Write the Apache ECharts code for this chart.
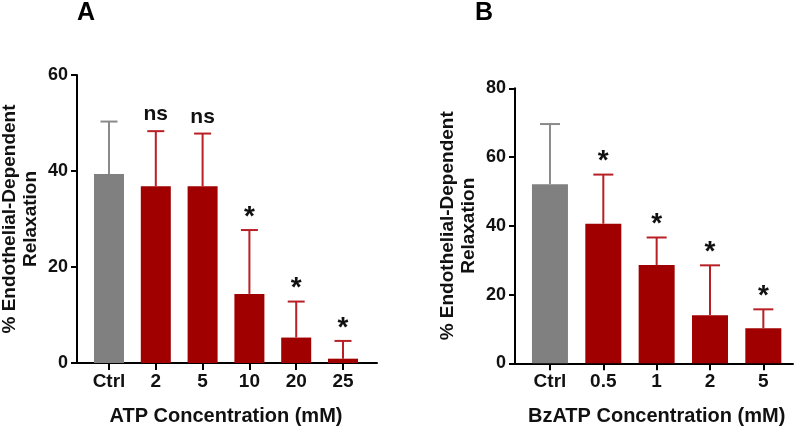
<!DOCTYPE html>
<html>
<head>
<meta charset="utf-8">
<script src="https://cdn.jsdelivr.net/npm/echarts@6/dist/echarts.min.js"></script>
<style>html,body{margin:0;padding:0;background:#fff}#c{width:800px;height:426px}</style>
</head>
<body>
<div id="c"></div>
<script>
// ---- Data ----
const catsA = ['Ctrl', '2', '5', '10', '20', '25'];
const meanA = [39.4, 36.8, 36.8, 14.4, 5.3, 0.9];
const errA  = [10.9, 11.5, 11.0, 13.3, 7.5, 3.7];
const sigA  = ['', 'ns', 'ns', '*', '*', '*'];
const yTicksA = { min: 0, max: 60, interval: 20 };

const catsB = ['Ctrl', '0.5', '1', '2', '5'];
const meanB = [52.1, 40.6, 28.6, 14.0, 10.2];
const errB  = [17.5, 14.3, 8.0, 14.5, 5.5];
const sigB  = ['', '*', '*', '*', '*'];
const yTicksB = { min: 0, max: 80, interval: 20 };

const yTitle = '% Endothelial-Dependent\nRelaxation';
const xTitleA = 'ATP Concentration (mM)';
const xTitleB = 'BzATP Concentration (mM)';

// ---- Styles ----
const FONT = '"Liberation Sans", Arial, sans-serif';
const RED = '#a00000', GREY = '#808080';
const RED_ERR = '#b82025', GREY_ERR = '#8a8a8a';

const chart = echarts.init(document.getElementById('c'), null, { renderer: 'canvas' });

function barData(vals) {
  return vals.map((v, i) => ({ value: v, itemStyle: { color: i === 0 ? GREY : RED } }));
}
function errData(means, errs) {
  return means.map((m, i) => [i, m, m + errs[i]]);
}
function errRender(capW) {
  return function (params, api) {
    const i = api.value(0);
    const base = api.coord([i, api.value(1)]);
    const top = api.coord([i, api.value(2)]);
    const color = i === 0 ? GREY_ERR : RED_ERR;
    return { type: 'group', children: [
      { type: 'line', shape: { x1: base[0], y1: base[1], x2: top[0], y2: top[1] }, style: { stroke: color, lineWidth: 2 } },
      { type: 'line', shape: { x1: top[0] - capW / 2, y1: top[1], x2: top[0] + capW / 2, y2: top[1] }, style: { stroke: color, lineWidth: 2 } }
    ] };
  };
}
function sigRender(sigs) {
  return function (params, api) {
    const i = api.value(0);
    const top = api.coord([i, api.value(2)]);
    const t = sigs[params.dataIndex];
    if (!t) return null;
    const isNs = t === 'ns';
    return {
      type: 'text',
      style: { text: t, x: top[0], y: top[1] + (isNs ? -6 : 1), align: 'center', verticalAlign: 'bottom',
               font: 'bold ' + (isNs ? 21 : 28) + 'px ' + FONT, fill: '#111' }
    };
  };
}

const axisLabelStyle = { color: '#111', fontFamily: FONT, fontWeight: 'bold', fontSize: 18 };
const catLabelStyle = { color: '#111', fontFamily: FONT, fontWeight: 'bold', fontSize: 19 };
const nameStyle = { color: '#111', fontFamily: FONT, fontWeight: 'bold', fontSize: 19, lineHeight: 21 };
const xNameStyle = { color: '#111', fontFamily: FONT, fontWeight: 'bold', fontSize: 20 };

const option = {
  animation: false,
  backgroundColor: '#fff',
  title: [
    { text: 'A', left: 77, top: 1, padding: 0, textStyle: { fontFamily: FONT, fontWeight: 'bold', fontSize: 25, color: '#000' } },
    { text: 'B', left: 475, top: 1, padding: 0, textStyle: { fontFamily: FONT, fontWeight: 'bold', fontSize: 25, color: '#000' } }
  ],
  grid: [
    { left: 77, right: 423, top: 75, bottom: 63, outerBoundsMode: 'none', containLabel: false },
    { left: 85.6, right: 433.6, top: 75, bottom: 63, outerBoundsMode: 'none', containLabel: false },
    { left: 515, right: 7, top: 88.3, bottom: 62.7, outerBoundsMode: 'none', containLabel: false },
    { left: 523.3, right: 10, top: 88.3, bottom: 62.7, outerBoundsMode: 'none', containLabel: false }
  ],
  xAxis: [
    { gridIndex: 0, type: 'value', min: 0, max: 1, axisLine: { show: true, lineStyle: { color: '#000', width: 2 } },
      axisTick: { show: false }, axisLabel: { show: false }, splitLine: { show: false } },
    { gridIndex: 1, type: 'category', data: catsA, axisLine: { show: false },
      axisTick: { show: true, alignWithLabel: true, length: 7, lineStyle: { color: '#000', width: 2 } },
      axisLabel: Object.assign({ margin: 9 }, catLabelStyle),
      name: xTitleA, nameLocation: 'middle', nameGap: 43, nameTextStyle: xNameStyle },
    { gridIndex: 2, type: 'value', min: 0, max: 1, axisLine: { show: true, lineStyle: { color: '#000', width: 2 } },
      axisTick: { show: false }, axisLabel: { show: false }, splitLine: { show: false } },
    { gridIndex: 3, type: 'category', data: catsB, axisLine: { show: false },
      axisTick: { show: true, alignWithLabel: true, length: 7, lineStyle: { color: '#000', width: 2 } },
      axisLabel: Object.assign({ margin: 9 }, catLabelStyle),
      name: xTitleB, nameLocation: 'middle', nameGap: 43, nameTextStyle: xNameStyle }
  ],
  yAxis: [
    { gridIndex: 0, type: 'value', min: yTicksA.min, max: yTicksA.max, interval: yTicksA.interval,
      axisLine: { show: true, lineStyle: { color: '#000', width: 2 } },
      axisTick: { show: true, length: 6, lineStyle: { color: '#000', width: 2 } },
      axisLabel: Object.assign({ margin: 9 }, axisLabelStyle), splitLine: { show: false },
      name: yTitle, nameLocation: 'middle', nameGap: 36, nameTextStyle: nameStyle },
    { gridIndex: 1, type: 'value', min: yTicksA.min, max: yTicksA.max, interval: yTicksA.interval, show: false },
    { gridIndex: 2, type: 'value', min: yTicksB.min, max: yTicksB.max, interval: yTicksB.interval,
      axisLine: { show: true, lineStyle: { color: '#000', width: 2 } },
      axisTick: { show: true, length: 6, lineStyle: { color: '#000', width: 2 } },
      axisLabel: Object.assign({ margin: 9 }, axisLabelStyle), splitLine: { show: false },
      name: yTitle, nameLocation: 'middle', nameGap: 36, nameTextStyle: nameStyle },
    { gridIndex: 3, type: 'value', min: yTicksB.min, max: yTicksB.max, interval: yTicksB.interval, show: false }
  ],
  series: [
    { type: 'bar', xAxisIndex: 1, yAxisIndex: 1, barWidth: 30, data: barData(meanA), z: 2 },
    { type: 'custom', xAxisIndex: 1, yAxisIndex: 1, data: errData(meanA, errA), renderItem: errRender(17), z: 3 },
    { type: 'custom', xAxisIndex: 1, yAxisIndex: 1, data: errData(meanA, errA), renderItem: sigRender(sigA), z: 4 },
    { type: 'bar', xAxisIndex: 3, yAxisIndex: 3, barWidth: 36, data: barData(meanB), z: 2 },
    { type: 'custom', xAxisIndex: 3, yAxisIndex: 3, data: errData(meanB, errB), renderItem: errRender(20), z: 3 },
    { type: 'custom', xAxisIndex: 3, yAxisIndex: 3, data: errData(meanB, errB), renderItem: sigRender(sigB), z: 4 }
  ]
};
chart.setOption(option);
</script>
</body>
</html>
